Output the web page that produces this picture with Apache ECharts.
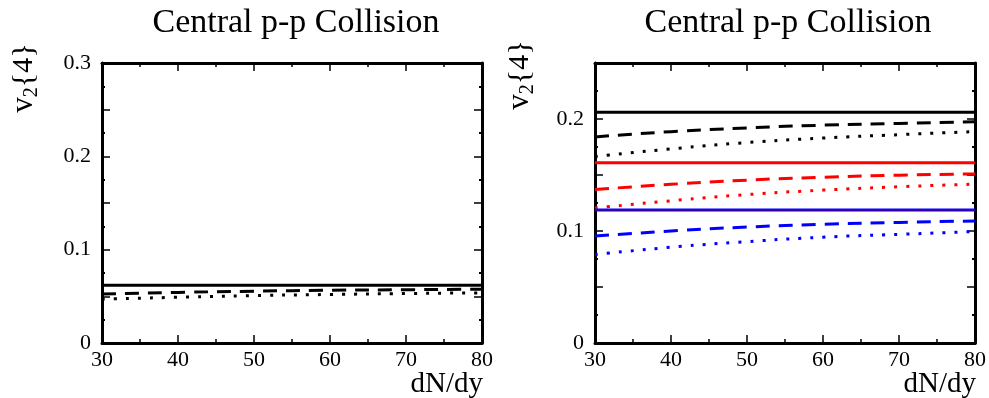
<!DOCTYPE html>
<html>
<head>
<meta charset="utf-8">
<script src="https://cdn.jsdelivr.net/npm/echarts@6/dist/echarts.min.js"></script>
<style>
  html, body { margin: 0; padding: 0; background: #fff; }
  #chart { width: 989px; height: 398px; }
</style>
</head>
<body>
<div id="chart"></div>
<script>
// dN/dy sample points
const dndy = [30, 40, 50, 60, 70, 80];

// left panel: single set (black)
const leftSolid = [0.062, 0.062, 0.062, 0.062, 0.062, 0.062];
const leftDashed = [0.0525, 0.0542, 0.0555, 0.0565, 0.0571, 0.0576];
const leftDotted = [0.047, 0.049, 0.0508, 0.052, 0.053, 0.0537];

// right panel: black / red / blue sets
const blackSolid = [0.206, 0.206, 0.206, 0.206, 0.206, 0.206];
const blackDashed = [0.184, 0.1887, 0.192, 0.1945, 0.196, 0.1976];
const blackDotted = [0.1665, 0.1733, 0.179, 0.183, 0.186, 0.1888];
const redSolid = [0.161, 0.161, 0.161, 0.161, 0.161, 0.161];
const redDashed = [0.137, 0.1417, 0.1454, 0.148, 0.1498, 0.151];
const redDotted = [0.1205, 0.127, 0.1325, 0.1365, 0.1395, 0.1418];
const blueSolid = [0.1188, 0.1188, 0.1188, 0.1188, 0.1188, 0.1188];
const blueDashed = [0.0955, 0.1, 0.1035, 0.106, 0.1077, 0.109];
const blueDotted = [0.079, 0.0855, 0.0905, 0.0945, 0.097, 0.0995];

const yMaxLeft = 0.3;
const yMaxRight = 0.25;

const serif = "'Liberation Serif', 'DejaVu Serif', serif";

const pts = (ys) => dndy.map((x, i) => [x, ys[i]]);

function xAxes(grid, main) {
  return {
    type: "value",
    gridIndex: grid,
    position: main ? "bottom" : "top",
    min: 30,
    max: 80,
    interval: 10,
    axisLine: { show: true, onZero: false, lineStyle: { color: "#000", width: 3 } },
    axisTick: { show: true, inside: true, length: 8, lineStyle: { color: "#000", width: 1.5 } },
    minorTick: { show: true, splitNumber: 2, length: 4, lineStyle: { color: "#000", width: 1.5 } },
    splitLine: { show: false },
    axisLabel: {
      show: main,
      color: "#000",
      fontFamily: serif,
      fontSize: 22,
      margin: 6,
    },
  };
}

function yAxes(grid, main, max) {
  return {
    type: "value",
    gridIndex: grid,
    position: main ? "left" : "right",
    min: 0,
    max: max,
    interval: 0.05,
    axisLine: { show: true, onZero: false, lineStyle: { color: "#000", width: 3 } },
    axisTick: { show: true, inside: true, length: 8, lineStyle: { color: "#000", width: 1.5 } },
    minorTick: { show: true, splitNumber: 2, length: 3, lineStyle: { color: "#000", width: 2 } },
    splitLine: { show: false },
    axisLabel: {
      show: main,
      color: "#000",
      fontFamily: serif,
      fontSize: 22,
      margin: 11,
      formatter: (v) => (Math.round(v * 100) % 10 === 0 ? String(Math.round(v * 10) / 10) : ""),
    },
  };
}

function line(name, grid, ys, color, style, width) {
  const dash = style === "dashed" ? [14, 9] : style === "dotted" ? [3, 9] : "solid";
  return {
    name,
    type: "line",
    xAxisIndex: grid * 2,
    yAxisIndex: grid * 2,
    data: pts(ys),
    smooth: true,
    showSymbol: false,
    silent: true,
    lineStyle: { color, width: width || 3, type: dash, cap: "butt" },
  };
}

const titleStyle = { color: "#000", fontFamily: serif, fontSize: 34, fontWeight: "normal" };

function yName(x, y) {
  return {
    type: "text",
    x: x,
    y: y,
    rotation: Math.PI / 2,
    style: {
      text: "{v|v}{s|2}{4}",
      fill: "#000",
      font: "30px " + serif,
      align: "center",
      verticalAlign: "middle",
      rich: {
        v: { fontSize: 31, fontFamily: serif, fill: "#000" },
        s: { fontSize: 20, fontFamily: serif, fill: "#000", padding: [15, 0, 0, 0] },
      },
    },
  };
}

function xName(x) {
  return {
    type: "text",
    x: x,
    y: 384,
    style: {
      text: "dN/dy",
      fill: "#000",
      font: "29px " + serif,
      align: "right",
      verticalAlign: "middle",
    },
  };
}

const chart = echarts.init(document.getElementById("chart"), null, { renderer: "canvas" });

chart.setOption({
  animation: false,
  backgroundColor: "#fff",
  title: [
    { text: "Central p-p Collision", left: 291, top: 1, textAlign: "center", textStyle: titleStyle },
    { text: "Central p-p Collision", left: 783, top: 1, textAlign: "center", textStyle: titleStyle },
  ],
  grid: [
    { left: 102, right: 507, top: 63, bottom: 55, outerBoundsMode: "none" },
    { left: 595, right: 14, top: 63, bottom: 55, outerBoundsMode: "none" },
  ],
  xAxis: [xAxes(0, true), xAxes(0, false), xAxes(1, true), xAxes(1, false)],
  yAxis: [
    yAxes(0, true, yMaxLeft),
    yAxes(0, false, yMaxLeft),
    yAxes(1, true, yMaxRight),
    yAxes(1, false, yMaxRight),
  ],
  graphic: [yName(24, 78), yName(520, 75), xName(483), xName(976)],
  series: [
    line("l-solid", 0, leftSolid, "#000", "solid"),
    line("l-dashed", 0, leftDashed, "#000", "dashed"),
    line("l-dotted", 0, leftDotted, "#000", "dotted"),

    line("k-solid", 1, blackSolid, "#000", "solid"),
    line("k-dashed", 1, blackDashed, "#000", "dashed"),
    line("k-dotted", 1, blackDotted, "#000", "dotted"),
    line("r-solid", 1, redSolid, "#ff0000", "solid"),
    line("r-dashed", 1, redDashed, "#ff0000", "dashed"),
    line("r-dotted", 1, redDotted, "#ff0000", "dotted"),
    line("b-solid", 1, blueSolid, "#0000ff", "solid"),
    line("b-solid-core", 1, blueSolid, "#7a0040", "solid", 1),
    line("b-dashed", 1, blueDashed, "#0000ff", "dashed"),
    line("b-dotted", 1, blueDotted, "#0000ff", "dotted"),
  ],
});
</script>
</body>
</html>
